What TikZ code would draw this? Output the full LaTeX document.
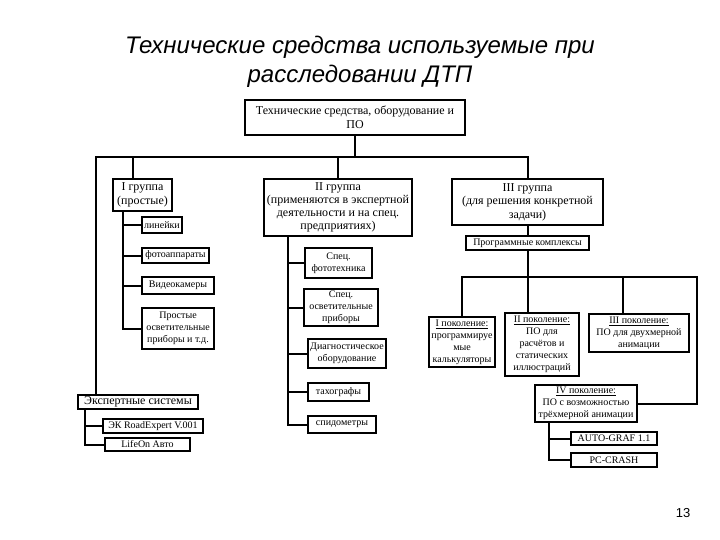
\documentclass[tikz,border=0pt]{standalone}
\usepackage{fontspec}
\setmainfont{Liberation Serif}
\newfontfamily\titlefont{Liberation Sans}
\usetikzlibrary{calc}

\tikzset{
  box/.style={draw, line width=2pt, fill=white, align=center, inner sep=1pt,
    font=\fontsize{10}{12}\selectfont},
  bigbox/.style={box, font=\fontsize{12}{13.5}\selectfont},
  wire/.style={line width=2pt},
}

\begin{document}
\begin{tikzpicture}[x=1pt, y=-1pt]
  \useasboundingbox (0,0) rectangle (720,540);
  % title
  \node[font=\titlefont\itshape\fontsize{24}{29}\selectfont, align=center] (title) at (360,62) {Технические средства используемые при\\расследовании ДТП};
  \node[bigbox, minimum width=220, minimum height=35] (top) at (355,117.5) {Технические средства, оборудование и\\ПО};
  % groups
  \node[bigbox, minimum width=59, minimum height=32] (grp1) at (142.5,195) {I группа\\(простые)};
  \node[bigbox, minimum width=148, minimum height=57, font=\fontsize{12}{13}\selectfont] (grp2) at (338,207.5) {II группа\\(применяются в экспертной\\деятельности и на спец.\\предприятиях)};
  \node[bigbox, minimum width=151, minimum height=46] (grp3) at (527.5,202) {III группа\\(для решения конкретной\\задачи)};
  % group I
  \node[box, minimum width=40, minimum height=16] (lin) at (162,225) {линейки};
  \node[box, minimum width=67, minimum height=15] (foto) at (175.5,255.5) {фотоаппараты};
  \node[box, minimum width=72, minimum height=17] (video) at (178,285.5) {Видеокамеры};
  \node[box, minimum width=72, minimum height=41] (light) at (178,328.5) {Простые\\осветительные\\приборы и т.д.};
  \node[bigbox, minimum width=120, minimum height=14] (expert) at (138,402) {Экспертные системы};
  \node[box, minimum width=100, minimum height=14] (road) at (153,426) {ЭК RoadExpert V.001};
  \node[box, minimum width=85, minimum height=13] (lifeon) at (147.5,444.5) {LifeOn Авто};
  % group II
  \node[box, minimum width=67, minimum height=30] (sfoto) at (338.5,263) {Спец.\\фототехника};
  \node[box, minimum width=74, minimum height=37] (slight) at (341,307.5) {Спец.\\осветительные\\приборы};
  \node[box, minimum width=78, minimum height=29] (diag) at (347,353.5) {Диагностическое\\оборудование};
  \node[box, minimum width=61, minimum height=18] (tacho) at (338.5,392) {тахографы};
  \node[box, minimum width=68, minimum height=17] (speed) at (342,424.5) {спидометры};
  % group III
  \node[box, minimum width=123, minimum height=14] (prog) at (527.5,243) {Программные комплексы};
  \node[box, minimum width=66, minimum height=50] (gen1) at (462,342) {\underline{I поколение:}\\программируе\\мые\\калькуляторы};
  \node[box, line width=2.6pt, minimum width=74, minimum height=63] (gen2) at (542,344.5) {\underline{II поколение:}\\ПО для\\расчётов и\\статических\\иллюстраций};
  \node[box, minimum width=100, minimum height=38] (gen3) at (639,333) {\underline{III поколение:}\\ПО для двухмерной\\анимации};
  \node[box, minimum width=102, minimum height=37] (gen4) at (586,403.5) {\underline{IV поколение:}\\ПО с возможностью\\трёхмерной анимации};
  \node[box, minimum width=86, minimum height=13] (auto) at (614,438.5) {AUTO-GRAF 1.1};
  \node[box, minimum width=86, minimum height=14] (pccrash) at (614,460) {PC-CRASH};
  \node[font=\titlefont\fontsize{13}{15}\selectfont] (page) at (683,513) {13};

  % main bus
  \coordinate (busW) at (96,157);
  \draw[wire] (top) -- (top |- busW);
  \draw[wire] (expert.north -| busW) -- (busW) -- (grp3.north |- busW) -- (grp3.north);
  \draw[wire] ([xshift=-9.5]grp1.north) |- (busW);
  \draw[wire] (grp2.north) -- (grp2.north |- busW);
  % group I rail
  \coordinate (r1) at ([xshift=-19.5]grp1.south);
  \draw[wire] (r1) |- (light.west);
  \foreach \n in {lin, foto, video}
    \draw[wire] (\n.west -| r1) -- (\n.west);
  % expert rail
  \coordinate (r0) at ([xshift=-53]expert.south);
  \draw[wire] (r0) |- (lifeon.west);
  \draw[wire] (road.west -| r0) -- (road.west);
  % group II rail
  \coordinate (r2) at ([xshift=-50]grp2.south);
  \draw[wire] (r2) |- (speed.west);
  \foreach \n in {sfoto, slight, diag, tacho}
    \draw[wire] (\n.west -| r2) -- (\n.west);
  % group III
  \coordinate (bus2E) at (697,277);
  \draw[wire] (grp3) -- (prog);
  \draw[wire] (prog) -- (gen2.north -| prog);
  \draw[wire] (gen1.north) -- (gen1.north |- bus2E) -- (bus2E) |- (gen4.east);
  \draw[wire] ([xshift=-16]gen3.north) -- ([xshift=-16]gen3.north |- bus2E);
  % generation IV rail
  \coordinate (r4) at ([xshift=-37]gen4.south);
  \draw[wire] (r4) |- (pccrash.west);
  \draw[wire] (auto.west -| r4) -- (auto.west);
\end{tikzpicture}
\end{document}
